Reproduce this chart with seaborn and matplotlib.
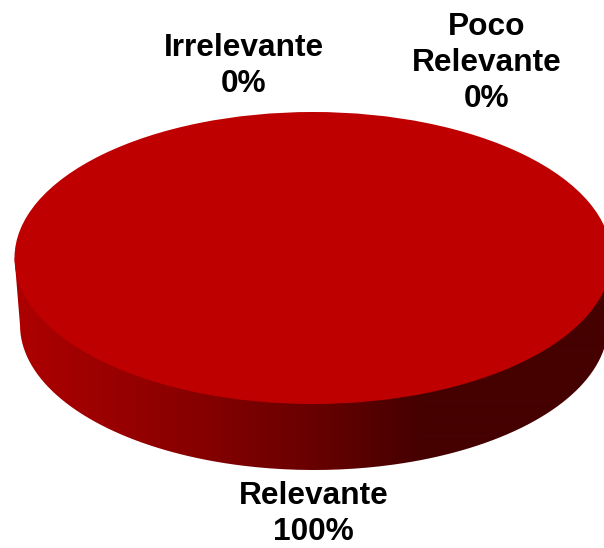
import numpy as np
import matplotlib
matplotlib.use("Agg")
import matplotlib.pyplot as plt
import seaborn as sns
from matplotlib.colors import LinearSegmentedColormap
from matplotlib.path import Path
from matplotlib.patches import PathPatch

categorias = ["Relevante", "Poco\nRelevante", "Irrelevante"]
valores = [100, 0, 0]
colores = ["#BE0000", "#BE0000", "#BE0000"]

sns.set_theme(style="white")
plt.rcParams['font.family'] = ['Liberation Sans', 'DejaVu Sans']

W, H = 604, 548
fig = plt.figure(figsize=(W / 100, H / 100), dpi=100)

# fondo en pixeles, para el lateral y los textos
ax = fig.add_axes([0, 0, 1, 1])
ax.set_xlim(0, W)
ax.set_ylim(H, 0)
ax.axis("off")

# cara superior y base del disco
cx, cy, rx, ry = 313, 258, 298.5, 146
bx, by, brx, bry = 314, 325, 294, 145

# lateral con degradado
t = np.linspace(np.pi, 0, 200)
xs = np.r_[cx - rx, bx + brx * np.cos(t), cx + rx, cx - rx]
ys = np.r_[cy, by + bry * np.sin(t), cy, cy]
borde = PathPatch(Path(np.c_[xs, ys]), facecolor="none", edgecolor="none", transform=ax.transData)
ax.add_patch(borde)
cmap = LinearSegmentedColormap.from_list("lateral", [
    (0.0, "#B00000"), (0.2, "#980000"), (0.33, "#860000"),
    (0.52, "#680000"), (0.7, "#450000"), (1.0, "#450000")])
img = ax.imshow(np.linspace(0, 1, 604).reshape(1, -1), cmap=cmap, aspect="auto", extent=(0, W, H, 0), interpolation="bilinear")
img.set_clip_path(borde)
ax.set_xlim(0, W)
ax.set_ylim(H, 0)

# cara superior: la tarta en su propio eje, estirado a elipse
ax_top = fig.add_axes([(cx - rx) / W, 1 - (cy + ry) / H, 2 * rx / W, 2 * ry / H])
ax_top.pie(valores, colors=colores, radius=1, startangle=90, wedgeprops={"linewidth": 0})
ax_top.set_aspect("auto")
ax_top.set_xlim(-1, 1)
ax_top.set_ylim(-1, 1)
ax_top.axis("off")

posiciones = [(313.5, 514), (487, 63), (244, 66)]
for cat, val, (x, y) in zip(categorias, valores, posiciones):
    ax.text(x, y, f"{cat}\n{val}%", ha="center", va="center", fontsize=22.8,
            fontweight="bold", color="black", linespacing=1.27)

fig.savefig("out.png", dpi=100)
